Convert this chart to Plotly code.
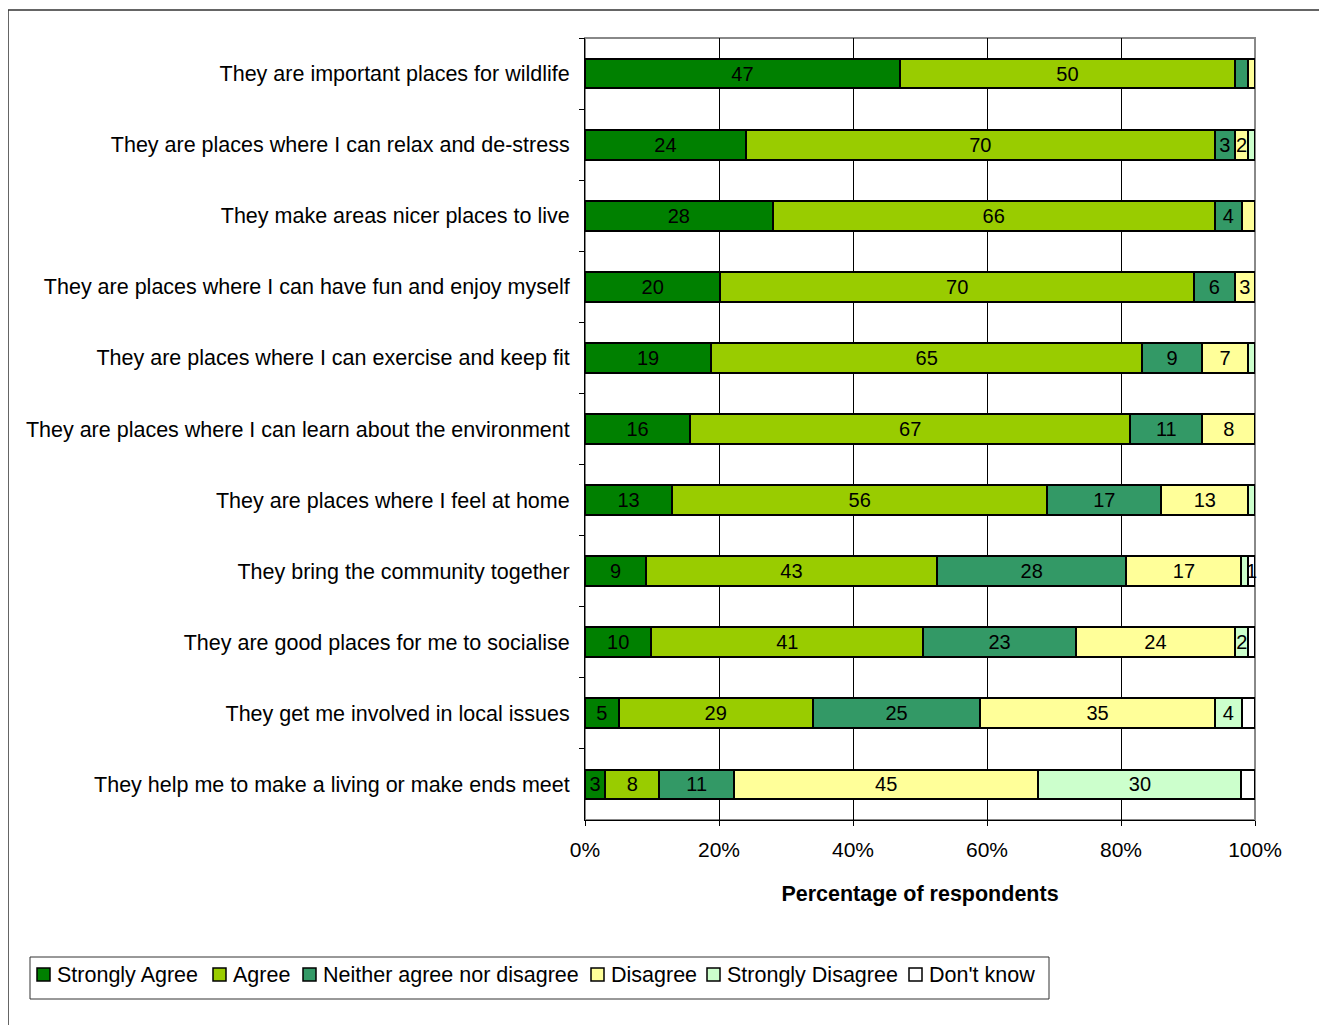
import plotly.graph_objects as go

categories = [
    "They are important places for wildlife",
    "They are places where I can relax and de-stress",
    "They make areas nicer places to live",
    "They are places where I can have fun and enjoy myself",
    "They are places where I can exercise and keep fit",
    "They are places where I can learn about the environment",
    "They are places where I feel at home",
    "They bring the community together",
    "They are good places for me to socialise",
    "They get me involved in local issues",
    "They help me to make a living or make ends meet",
]

series_names = ["Strongly Agree", "Agree", "Neither agree nor disagree",
                "Disagree", "Strongly Disagree", "Don't know"]

strongly_agree = [47, 24, 28, 20, 19, 16, 13, 9, 10, 5, 3]
agree = [50, 70, 66, 70, 65, 67, 56, 43, 41, 29, 8]
neither = [2, 3, 4, 6, 9, 11, 17, 28, 23, 25, 11]
disagree = [1, 2, 2, 3, 7, 8, 13, 17, 24, 35, 45]
strongly_disagree = [0, 1, 0, 0, 1, 0, 1, 1, 2, 4, 30]
dont_know = [0, 0, 0, 0, 0, 0, 0, 1, 1, 2, 2]

# which data labels are displayed in the original chart
shown_strongly_agree = [1, 1, 1, 1, 1, 1, 1, 1, 1, 1, 1]
shown_agree = [1, 1, 1, 1, 1, 1, 1, 1, 1, 1, 1]
shown_neither = [0, 1, 1, 1, 1, 1, 1, 1, 1, 1, 1]
shown_disagree = [0, 1, 0, 1, 1, 1, 1, 1, 1, 1, 1]
shown_strongly_disagree = [0, 0, 0, 0, 0, 0, 0, 0, 1, 1, 1]
shown_dont_know = [0, 0, 0, 0, 0, 0, 0, 1, 0, 0, 0]

x_tick_values = [0, 20, 40, 60, 80, 100]
x_tick_labels = ["0%", "20%", "40%", "60%", "80%", "100%"]

colors = ["#008000", "#99CC00", "#339966", "#FFFF99", "#CCFFCC", "#FFFFFF"]

all_values = [strongly_agree, agree, neither, disagree, strongly_disagree, dont_know]
all_shown = [shown_strongly_agree, shown_agree, shown_neither, shown_disagree,
             shown_strongly_disagree, shown_dont_know]

FONT = "Liberation Sans, Arial, sans-serif"
FS = 21.5

# page-pixel geometry of the plot area (figure is offset by the 8px body margin)
PL, PR, PT, PB = 585, 1255, 38, 820


def px(x):
    return (x - PL) / (PR - PL)


def py(y):
    return (PB - y) / (PB - PT)


fig = go.Figure()
for name, vals, shown, col in zip(series_names, all_values, all_shown, colors):
    texts = [str(v) if s else "" for v, s in zip(vals, shown)]
    fig.add_trace(go.Bar(
        name=name, y=categories, x=vals, orientation="h",
        marker=dict(color=col, line=dict(color="black", width=2)),
        text=texts, textposition="inside", insidetextanchor="middle",
        textangle=0, textfont=dict(color="black", size=20, family=FONT),
        cliponaxis=False, showlegend=False,
    ))

fig.update_layout(
    barmode="stack", barnorm="percent", bargap=0.58,
    width=1319, height=1017,
    margin=dict(l=PL - 8, r=1327 - PR, t=PT - 8, b=1025 - PB, pad=0),
    paper_bgcolor="white", plot_bgcolor="white",
    font=dict(family=FONT, size=FS, color="black"),
    uniformtext=dict(minsize=20, mode="show"),
    showlegend=False,
    xaxis=dict(
        range=[0, 100], tickvals=x_tick_values, ticktext=x_tick_labels,
        showgrid=True, gridcolor="black", gridwidth=1,
        showline=True, linecolor="black", linewidth=1,
        ticks="outside", ticklen=5, tickcolor="black",
        ticklabelstandoff=6, zeroline=False, tickfont=dict(size=21),
        title=dict(text="<b>Percentage of respondents</b>", standoff=25,
                   font=dict(size=21.5)),
    ),
    yaxis=dict(
        categoryorder="array", categoryarray=categories, autorange="reversed",
        showline=True, linecolor="black", linewidth=1,
        ticks="outside", ticklen=5, tickcolor="black", tickson="boundaries",
        ticklabelstandoff=10, showgrid=False,
    ),
)

# plot-area border (grey top and right)
fig.add_shape(type="rect", xref="paper", yref="paper", x0=0, x1=1, y0=0, y1=1,
              line=dict(color="#888888", width=2), layer="below")
# outer chart border
fig.add_shape(type="rect", xref="paper", yref="paper",
              x0=px(8), x1=px(1325), y0=py(1100), y1=py(10),
              line=dict(color="#333333", width=1.5), layer="below")

# legend (drawn manually to match the compact original layout)
fig.add_shape(type="rect", xref="paper", yref="paper",
              x0=px(30), x1=px(1049), y0=py(999), y1=py(957),
              line=dict(color="#333333", width=1), fillcolor="white")
legend_square_x = [37, 213, 303, 591, 707, 909]
for name, col, sx in zip(series_names, colors, legend_square_x):
    fig.add_shape(type="rect", xref="paper", yref="paper",
                  x0=px(sx), x1=px(sx + 13), y0=py(981), y1=py(968),
                  line=dict(color="black", width=1.5), fillcolor=col)
    fig.add_annotation(xref="paper", yref="paper", x=px(sx + 18), y=py(975),
                       text=name, showarrow=False, xanchor="left",
                       yanchor="middle", font=dict(size=21.5, family=FONT))

fig.write_html("out.html")
